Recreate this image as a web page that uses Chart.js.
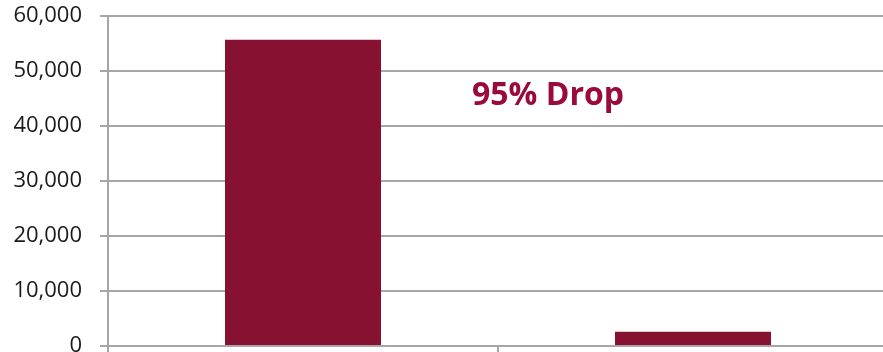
<!DOCTYPE html>
<html>
<head>
<meta charset="utf-8">
<script src="https://cdn.jsdelivr.net/npm/chart.js@4/dist/chart.umd.min.js"></script>
<style>
  html, body { margin: 0; padding: 0; background: #fff; overflow: hidden; }
  #wrap { position: relative; width: 889px; height: 362px; }
</style>
</head>
<body>
<div id="wrap"><canvas id="c"></canvas></div>
<script>
// Chart data
const categories = ['', ''];
const values = [55700, 2600];
const yTicks = [0, 10000, 20000, 30000, 40000, 50000, 60000];
const calloutText = '95% Drop';

const barColor = '#871131';
const calloutColor = '#9a0a3a';
const gridColor = '#a6a6a6';

// Draws the callout text inside the plot area
const calloutPlugin = {
  id: 'callout',
  afterDatasetsDraw(chart) {
    const { ctx, scales } = chart;
    const x = scales.x.getPixelForValue(0.5) - 26;
    const y = scales.y.getPixelForValue(43800);
    ctx.save();
    ctx.font = 'bold 32px "Open Sans"';
    ctx.fillStyle = calloutColor;
    ctx.textAlign = 'left';
    ctx.textBaseline = 'alphabetic';
    ctx.fillText(calloutText, x, y);
    ctx.restore();
  }
};

new Chart(document.getElementById('c'), {
  type: 'bar',
  data: {
    labels: categories,
    datasets: [{
      data: values,
      backgroundColor: barColor,
      borderWidth: 0,
      categoryPercentage: 0.4,
      barPercentage: 1.0
    }]
  },
  options: {
    responsive: true,
    maintainAspectRatio: false,
    animation: false,
    events: [],
    layout: { autoPadding: false, padding: { top: 16, right: 1, bottom: 0, left: 0 } },
    plugins: { legend: { display: false }, tooltip: { enabled: false } },
    scales: {
      x: {
        offset: true,
        grid: {
          offset: true,
          drawOnChartArea: false,
          drawTicks: true,
          tickLength: 8,
          color: gridColor,
          lineWidth: 2
        },
        border: { display: true, color: gridColor, width: 2 },
        ticks: { display: false },
        afterFit(scale) {
          scale.height = 16;
          scale.paddingLeft = 0;
          scale.paddingRight = 0;
        }
      },
      y: {
        min: 0,
        max: 60000,
        afterBuildTicks(scale) { scale.ticks = yTicks.map(v => ({ value: v })); },
        grid: {
          color: gridColor,
          lineWidth: 2,
          drawTicks: true,
          tickLength: 8
        },
        border: { display: true, color: gridColor, width: 2 },
        ticks: {
          color: '#1a1a1a',
          font: { family: '"Open Sans"', size: 22 },
          padding: 18,
          callback: v => v.toLocaleString('en-US')
        },
        afterFit(scale) {
          scale.width = 108;
          scale.paddingTop = 0;
          scale.paddingBottom = 0;
        }
      }
    }
  },
  plugins: [calloutPlugin]
});
</script>
</body>
</html>
